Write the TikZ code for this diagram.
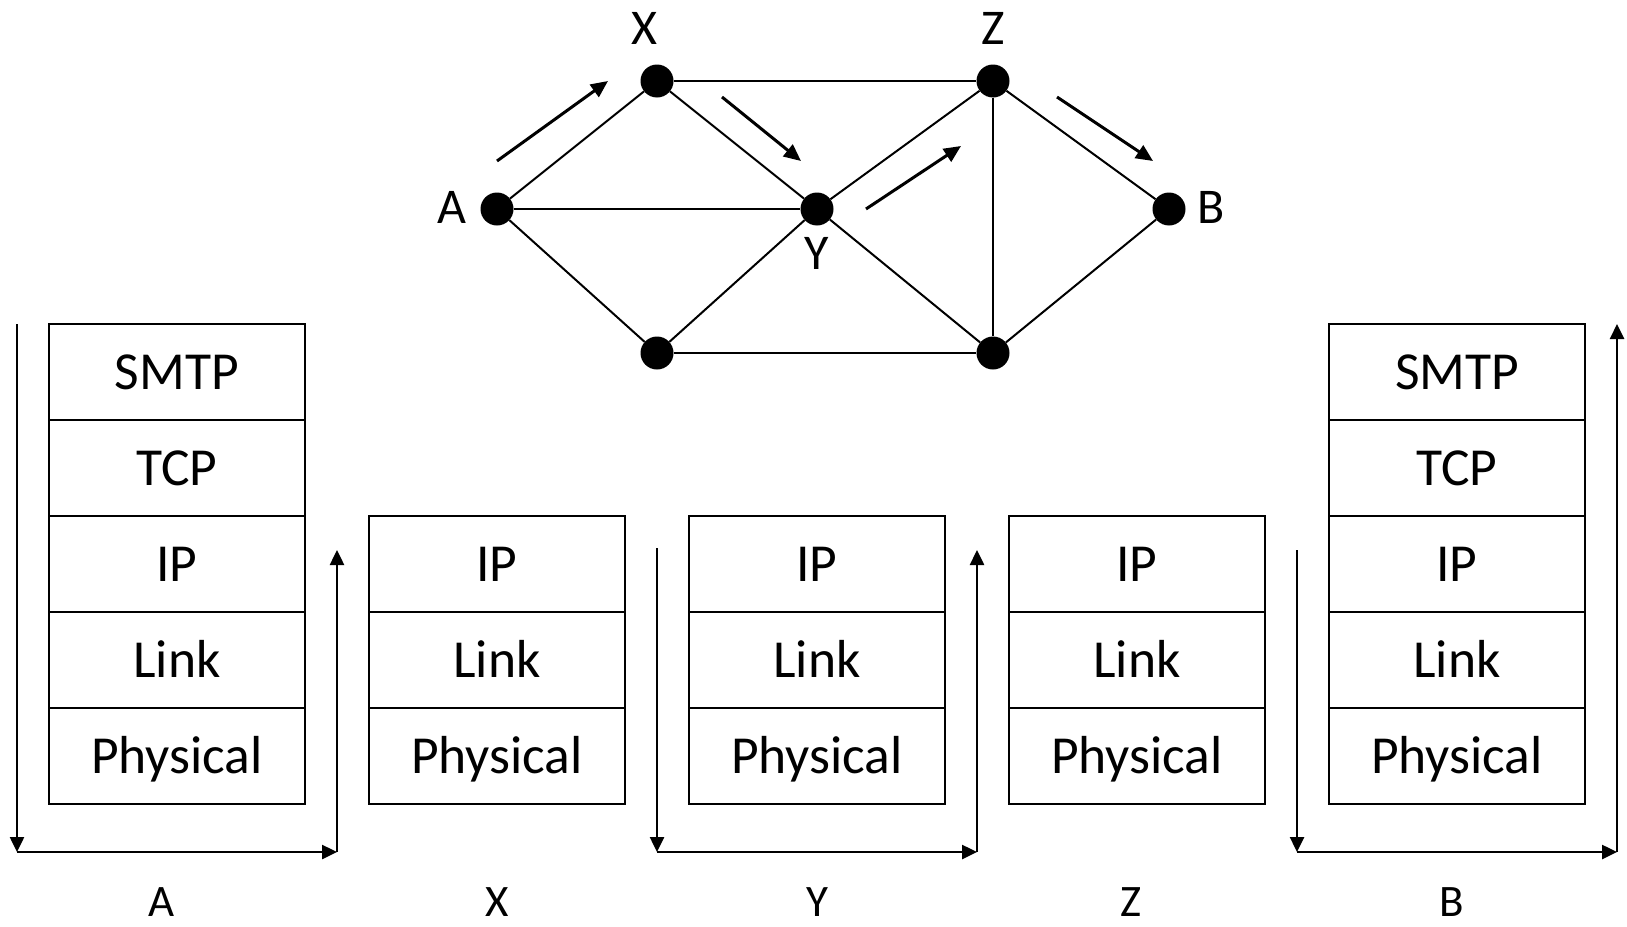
\documentclass[tikz,border=0pt]{standalone}
\usepackage{fontspec}
\setmainfont{Carlito}
\usetikzlibrary{arrows.meta}

\tikzset{
	layer/.style={draw, line width=2pt, minimum width=256pt, minimum height=96pt,
		inner sep=0pt, text height=34pt, text depth=0pt, font=\fontsize{53.5}{62}\selectfont},
	host/.style={circle, fill, inner sep=0pt, minimum size=33pt},
	hostname/.style={inner sep=0pt, text height=32pt, text depth=0pt, font=\fontsize{50}{60}\selectfont},
	stackname/.style={inner sep=0pt, anchor=base, font=\fontsize{45}{54}\selectfont},
	flow/.style={-{Triangle[length=17pt,width=15pt]}, line width=3pt},
	pass/.style={-{Triangle[length=15pt,width=14pt]}, line width=2.5pt},
}

\begin{document}
\begin{tikzpicture}[x=1pt, y=-1pt]
		\useasboundingbox (0,0) rectangle (1627,926);
		% network
		\node[host] (A) at (497,209) {};
		\node[host] (X) at (657,81) {};
		\node[host] (Y) at (817,209) {};
		\node[host] (Z) at (993,81) {};
		\node[host] (B) at (1169,209) {};
		\node[host] (L) at (657,353) {};
		\node[host] (R) at (993,353) {};
		\node[hostname] (labA) at (452,207) {A};
		\node[hostname] (labX) at (644,28) {X};
		\node[hostname] (labY) at (817,253) {Y};
		\node[hostname] (labZ) at (993,28) {Z};
		\node[hostname] (labB) at (1211,207) {B};
		%
		\path[line width=2pt]
		(A) edge (X)
		(A) edge (Y)
		(A) edge (L)
		(X) edge (Y)
		(X) edge (Z)
		(Y) edge (Z)
		(Y) edge (L)
		(Y) edge (R)
		(Z) edge (R)
		(Z) edge (B)
		(L) edge (R)
		(B) edge (R);
		%
		\coordinate (f1s) at (497,161);
		\coordinate (f1e) at (608,81);
		\coordinate (f2s) at (722,97);
		\coordinate (f2e) at (801,161);
		\coordinate (f3s) at (866,209);
		\coordinate (f3e) at (961,146);
		\coordinate (f4s) at (1057,97);
		\coordinate (f4e) at (1153,161);
		\draw[flow] (f1s) -- (f1e);
		\draw[flow] (f2s) -- (f2e);
		\draw[flow] (f3s) -- (f3e);
		\draw[flow] (f4s) -- (f4e);
		% stacks
		\node[layer] (smtpA) at (177,372) {SMTP};
		\node[layer] (tcpA) at (177,468) {TCP};
		\node[layer] (ipA) at (177,564) {IP};
		\node[layer] (linkA) at (177,660) {Link};
		\node[layer] (physA) at (177,756) {Physical};
		%
		\node[layer] (ipX) at (497,564) {IP};
		\node[layer] (linkX) at (497,660) {Link};
		\node[layer] (physX) at (497,756) {Physical};
		%
		\node[layer] (ipY) at (817,564) {IP};
		\node[layer] (linkY) at (817,660) {Link};
		\node[layer] (physY) at (817,756) {Physical};
		%
		\node[layer] (ipZ) at (1137,564) {IP};
		\node[layer] (linkZ) at (1137,660) {Link};
		\node[layer] (physZ) at (1137,756) {Physical};
		%
		\node[layer] (smtpB) at (1457,372) {SMTP};
		\node[layer] (tcpB) at (1457,468) {TCP};
		\node[layer] (ipB) at (1457,564) {IP};
		\node[layer] (linkB) at (1457,660) {Link};
		\node[layer] (physB) at (1457,756) {Physical};
		%
		\node[stackname] (nameA) at (162,916) {A};
		\node[stackname] (nameX) at (497,916) {X};
		\node[stackname] (nameY) at (817,916) {Y};
		\node[stackname] (nameZ) at (1131,916) {Z};
		\node[stackname] (nameB) at (1452,916) {B};
		% paths through the stacks
		\coordinate (aIn) at (17,324);
		\coordinate (aLow) at (17,852);
		\coordinate (aOut) at (337,852);
		\coordinate (aUp) at (337,550);
		\coordinate (yIn) at (657,548);
		\coordinate (yLow) at (657,852);
		\coordinate (yOut) at (977,852);
		\coordinate (yUp) at (977,550);
		\coordinate (bIn) at (1297,550);
		\coordinate (bLow) at (1297,852);
		\coordinate (bOut) at (1617,852);
		\coordinate (bUp) at (1617,324);
		\draw[pass] (aIn) -- (aLow);
		\draw[pass] (aLow) -- (aOut);
		\draw[pass] (aOut) -- (aUp);
		\draw[pass] (yIn) -- (yLow);
		\draw[pass] (yLow) -- (yOut);
		\draw[pass] (yOut) -- (yUp);
		\draw[pass] (bIn) -- (bLow);
		\draw[pass] (bLow) -- (bOut);
		\draw[pass] (bOut) -- (bUp);
	\end{tikzpicture}
\end{document}
